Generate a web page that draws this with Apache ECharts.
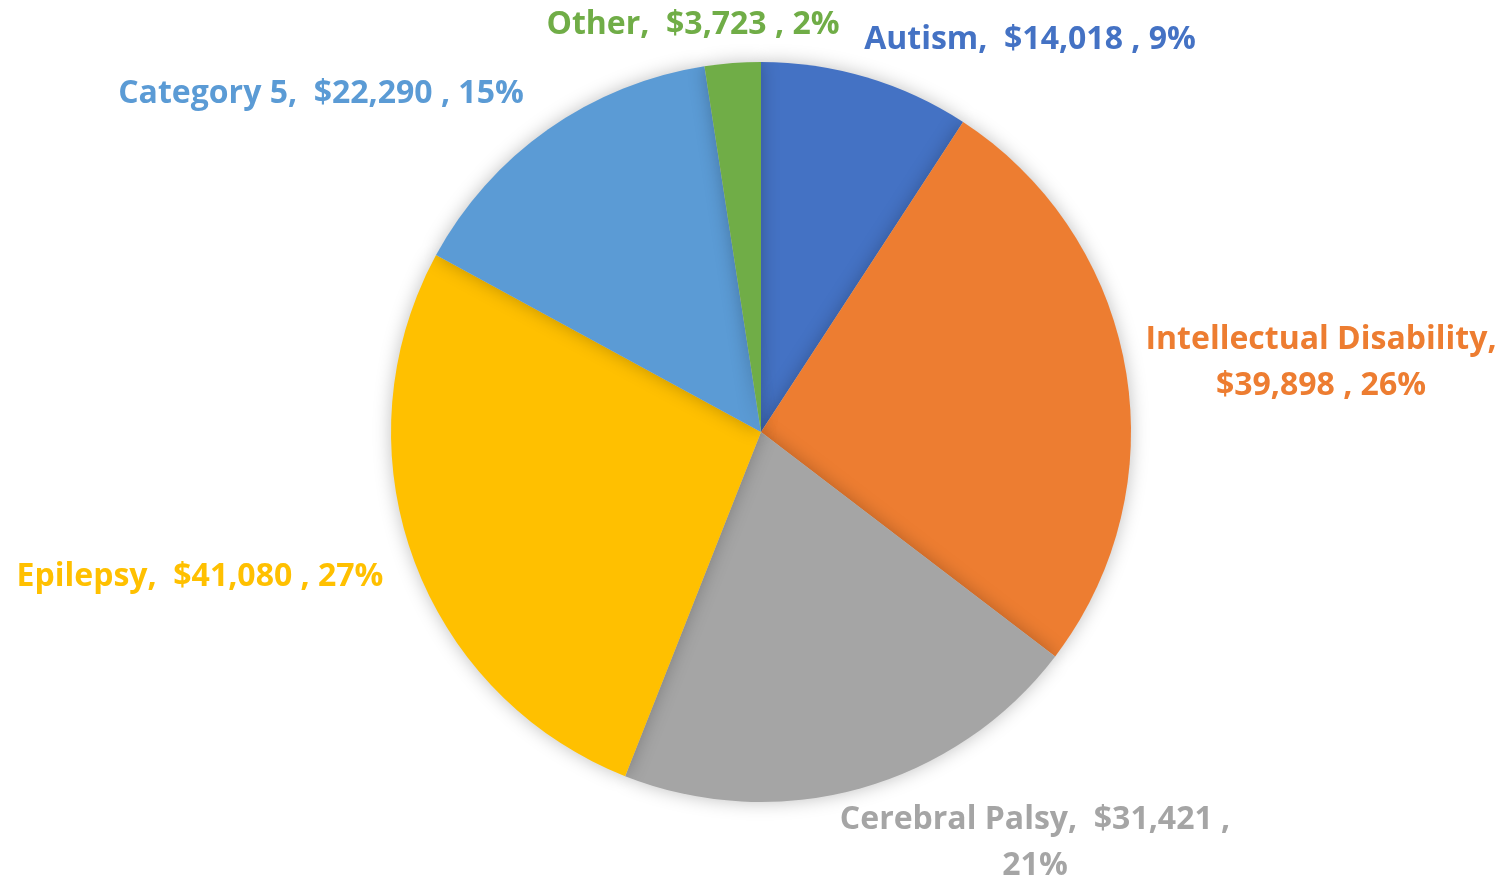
<!DOCTYPE html>
<html lang="en">

<head>
  <meta charset="UTF-8">
  <title>Pie</title>
  <style>
    html, body { margin: 0; background: #fff; }
    #main { height: 880px; width: 1501px; }
  </style>
</head>

<body>
<div id="main"></div>
<script src="https://cdn.jsdelivr.net/npm/echarts@6/dist/echarts.min.js"></script>
<script>
  // data (clockwise from 12 o'clock)
  const categories = ['Autism', 'Intellectual Disability', 'Cerebral Palsy', 'Epilepsy', 'Category 5', 'Other'];
  const values = [14018, 39898, 31421, 41080, 22290, 3723];
  const colors = ['#4472C4', '#ED7D31', '#A5A5A5', '#FFC000', '#5B9BD5', '#70AD47'];

  // label anchors (center of text block), px
  const labelPos = [[1030, 40], [1321, 363], [1035, 843], [200, 577], [321, 94], [693, 25]];
  const wrapAfterName = { 'Intellectual Disability': true };
  const wrapBeforePct = { 'Cerebral Palsy': true };

  let chart = echarts.init(document.getElementById('main'));

  let option = {
    animation: false,
    series: [{
      type: 'pie',
      center: [761, 432],
      radius: 370,
      startAngle: 90,
      clockwise: true,
      data: categories.map((c, i) => ({ name: c, value: values[i], itemStyle: { color: colors[i] } })),
      itemStyle: {
        shadowBlur: 18,
        shadowColor: 'rgba(0,0,0,0.25)'
      },
      emphasis: { disabled: true },
      labelLine: { show: false },
      label: {
        show: true,
        position: 'outside',
        overflow: 'none',
        edgeDistance: 0,
        fontFamily: 'Open Sans',
        fontWeight: 'bold',
        fontSize: 32,
        lineHeight: 46,
        align: 'center',
        color: 'inherit',
        formatter: p => {
          let v = '$' + p.value.toLocaleString('en-US');
          let s1 = wrapAfterName[p.name] ? '\n' : '  ';
          let s2 = wrapBeforePct[p.name] ? ' ,\n' : ' , ';
          return p.name + ',' + s1 + v + s2 + p.percent + '%';
        }
      },
      percentPrecision: 0,
      labelLayout: p => ({
        x: labelPos[p.dataIndex][0],
        y: labelPos[p.dataIndex][1],
        align: 'center',
        verticalAlign: 'middle'
      })
    }]
  }
  chart.setOption(option)
</script>
</body>

</html>
